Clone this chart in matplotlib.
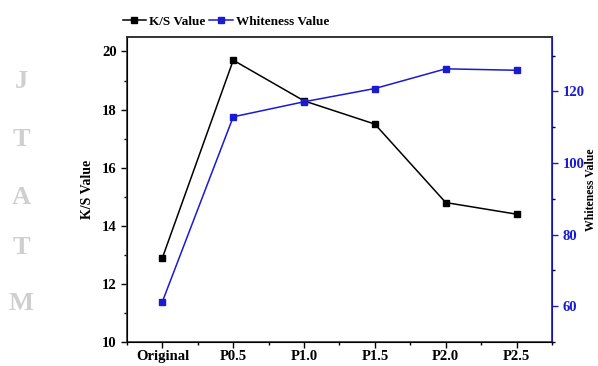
import matplotlib
matplotlib.use("Agg")
import matplotlib.pyplot as plt
from matplotlib.ticker import MultipleLocator

categories = ["Original", "P0.5", "P1.0", "P1.5", "P2.0", "P2.5"]
ks_values = [12.9, 19.7, 18.3, 17.5, 14.8, 14.4]
whiteness_values = [61.3, 112.9, 117.1, 120.8, 126.3, 125.9]
watermark = ["J", "T", "A", "T", "M"]

plt.rcParams['font.family'] = ['Liberation Serif', 'DejaVu Serif']
plt.rcParams['font.weight'] = 'bold'

fig = plt.figure(figsize=(5.98, 3.66), dpi=100)
ax = fig.add_axes([0.2124, 0.0656, 0.7106, 0.8334])
ax2 = ax.twinx()
blue = '#1a1ad0'

x = list(range(len(categories)))
l1, = ax.plot(x, ks_values, color='black', marker='s', markersize=5, lw=1.1, label='K/S Value')
l2, = ax2.plot(x, whiteness_values, color=blue, marker='s', markersize=5, lw=1.1, label='Whiteness Value')

ax.set_xlim(-0.5, 5.5)
ax.set_ylim(10, 20.5)
ax2.set_ylim(50, 135.2)
ax.set_xticks(x)
ax.set_xticklabels(categories, fontsize=10.5, fontweight='bold')
ax.xaxis.set_minor_locator(MultipleLocator(0.5))
ax.yaxis.set_major_locator(MultipleLocator(2))
ax.yaxis.set_minor_locator(MultipleLocator(1))
ax2.yaxis.set_minor_locator(MultipleLocator(10))
ax2.set_yticks([60, 80, 100, 120])

for a in (ax, ax2):
    a.tick_params(which='major', length=4, width=1, direction='out', labelsize=10.5)
    a.tick_params(which='minor', length=2.5, width=1, direction='out')
ax.tick_params(axis='x', pad=2)
ax2.tick_params(axis='y', colors=blue, labelcolor=blue)
ax2.spines['right'].set_color(blue)
for s in ['left', 'bottom', 'top']:
    ax.spines[s].set_color('#333333')
    ax.spines[s].set_linewidth(1.2)
ax2.spines['right'].set_linewidth(1.2)
ax2.spines['top'].set_color('#333333')
ax2.spines['top'].set_linewidth(1.2)

for lab in ax.get_yticklabels() + ax2.get_yticklabels():
    lab.set_fontweight('bold')

ax.set_ylabel('K/S Value', fontsize=10, fontweight='bold', labelpad=6)
fig.text(591/598, 1 - 190/366, 'Whiteness Value', fontsize=8.5, fontweight='bold',
         rotation=90, ha='center', va='center')

fig.legend(handles=[l1, l2], loc='center left', bbox_to_anchor=(0.185, 0.94), ncol=2,
           frameon=False, handlelength=1.8, handletextpad=0.2, columnspacing=0.3,
           prop={'weight': 'bold', 'size': 9.5})

ys = [1 - 82/366, 1 - 140/366, 1 - 197/366, 1 - 248/366, 1 - 303/366]
for ch, yy in zip(watermark, ys):
    fig.text(21/598, yy, ch, fontsize=19, color='#cfcfcf', ha='center', va='center')

fig.savefig('out.png', dpi=100)
